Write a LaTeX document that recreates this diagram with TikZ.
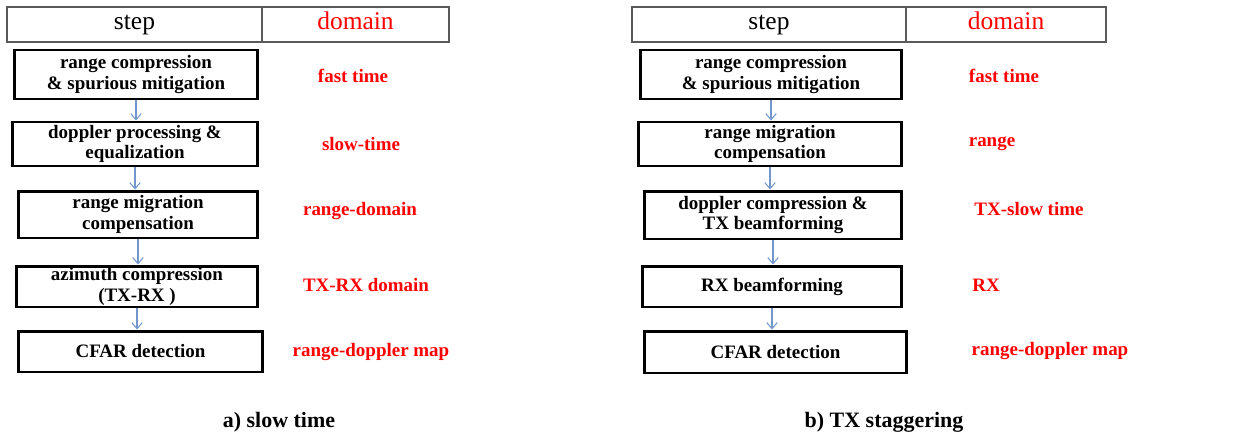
\documentclass[tikz,border=0pt]{standalone}
\usepackage{fontspec}
\setmainfont{Liberation Serif}
\usetikzlibrary{arrows.meta}

\definecolor{flowblue}{RGB}{115,150,205}
\definecolor{hdrgray}{RGB}{90,90,90}

\tikzset{
  stepbox/.style={draw, line width=1.7pt, align=center, inner sep=0pt,
    font=\fontsize{10.8}{11.6}\selectfont\bfseries},
  hdrcell/.style={draw=hdrgray, line width=0.8pt, minimum height=0.7cm,
    inner sep=0pt, text height=0.75em, text depth=0.15em,
    font=\fontsize{14.5}{16}\selectfont},
  domlabel/.style={text=red, font=\fontsize{10.8}{12}\selectfont\bfseries},
  flow/.style={-{Straight Barb[length=3.5pt,width=6pt]}, flowblue, line width=0.6pt},
  caption/.style={font=\fontsize{12.5}{14}\selectfont\bfseries}
}

\begin{document}
\begin{tikzpicture}[x=0.02cm,y=-0.02cm]
  \useasboundingbox (0,0) rectangle (1246,436);

  % (a) slow time: header
  \node[hdrcell, minimum width=5.1cm] (lstep) at (134.5,24.5) {step};
  \node[hdrcell, minimum width=3.74cm, text=red] (ldom) at (355.5,24.5) {domain};

  % (a) processing steps
  \node[stepbox, minimum width=4.88cm, minimum height=0.98cm] (la) at (136,74.5)
    {range compression\\ \& spurious mitigation};
  \node[stepbox, minimum width=4.92cm, minimum height=0.88cm] (lb) at (135,144)
    {doppler processing \&\\ equalization};
  \node[stepbox, minimum width=4.8cm, minimum height=0.94cm] (lc) at (138,214.5)
    {range migration\\ compensation};
  \node[stepbox, minimum width=4.84cm, minimum height=0.82cm] (ld) at (137,286.5)
    {azimuth compression\\ (TX-RX )};
  \node[stepbox, minimum width=4.9cm, minimum height=0.82cm] (le) at (140.5,351.5)
    {CFAR detection};

  \draw[flow] (la.south) -- (la.south |- lb.north);
  \draw[flow] (lb.south) -- (lb.south |- lc.north);
  \draw[flow] (lc.south) -- (lc.south |- ld.north);
  \draw[flow] (ld.south) -- (ld.south |- le.north);

  % (a) domains
  \node[domlabel] (lda) at (353,76) {fast time};
  \node[domlabel] (ldb) at (361,144) {slow-time};
  \node[domlabel] (ldc) at (360,211) {range-domain};
  \node[domlabel] (ldd) at (366,285) {TX-RX domain};
  \node[domlabel] (lde) at (371,352) {range-doppler map};

  \node[caption] (lcap) at (279,422) {a) slow time};

  % (b) TX staggering: header
  \node[hdrcell, minimum width=5.48cm] (rstep) at (769,24.5) {step};
  \node[hdrcell, minimum width=4.0cm, text=red] (rdom) at (1006,24.5) {domain};

  % (b) processing steps
  \node[stepbox, minimum width=5.24cm, minimum height=0.98cm] (ra) at (771,74.5)
    {range compression\\ \& spurious mitigation};
  \node[stepbox, minimum width=5.28cm, minimum height=0.88cm] (rb) at (770,144)
    {range migration\\ compensation};
  \node[stepbox, minimum width=5.16cm, minimum height=0.96cm] (rc) at (773,215)
    {doppler compression \&\\ TX beamforming};
  \node[stepbox, minimum width=5.2cm, minimum height=0.82cm] (rd) at (772,286.5)
    {RX beamforming};
  \node[stepbox, minimum width=5.26cm, minimum height=0.84cm] (re) at (775.5,352)
    {CFAR detection};

  \draw[flow] (ra.south) -- (ra.south |- rb.north);
  \draw[flow] (rb.south) -- (rb.south |- rc.north);
  \draw[flow] (rc.south) -- (rc.south |- rd.north);
  \draw[flow] (rd.south) -- (rd.south |- re.north);

  % (b) domains
  \node[domlabel] (rda) at (1004,76) {fast time};
  \node[domlabel] (rdb) at (992,144) {range};
  \node[domlabel] (rdc) at (1029,209) {TX-slow time};
  \node[domlabel] (rdd) at (986,285) {RX};
  \node[domlabel] (rde) at (1050,351) {range-doppler map};

  \node[caption] (rcap) at (884,422) {b) TX staggering};
\end{tikzpicture}
\end{document}
